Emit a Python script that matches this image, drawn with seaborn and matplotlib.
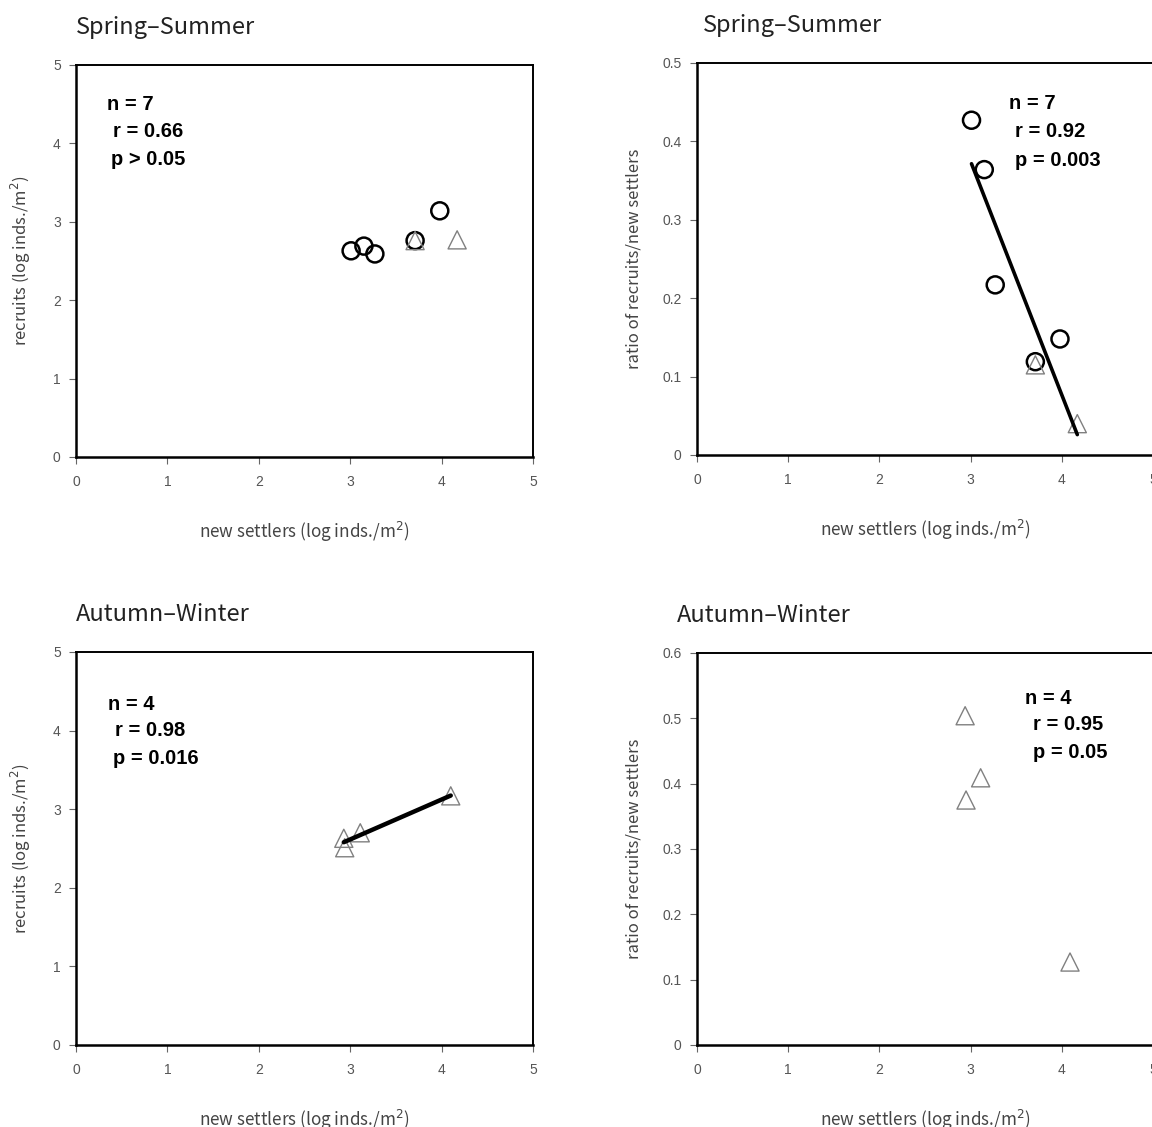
import numpy as np
import pandas as pd
import matplotlib
matplotlib.use("Agg")
import matplotlib.pyplot as plt
import seaborn as sns

# Spring-Summer: circles and triangles (log new settlers, log recruits, ratio)
ss_circle_x = [3.01, 3.15, 3.27, 3.71, 3.98]
ss_circle_recruits = [2.63, 2.69, 2.59, 2.76, 3.14]
ss_circle_ratio = [0.427, 0.364, 0.217, 0.119, 0.148]
ss_tri_x = [3.71, 4.17]
ss_tri_recruits = [2.76, 2.77]
ss_tri_ratio = [0.115, 0.040]

# Autumn-Winter: triangles only
aw_tri_x = [2.93, 2.94, 3.11, 4.10]
aw_tri_recruits = [2.63, 2.51, 2.70, 3.17]
aw_tri_ratio = [0.375, 0.504, 0.409, 0.127]
aw_ratio_x = [2.95, 2.94, 3.11, 4.09]

titles = ["Spring\u2013Summer", "Spring\u2013Summer", "Autumn\u2013Winter", "Autumn\u2013Winter"]
stats_ss_rec = ["n = 7", " r = 0.66", " p > 0.05"]
stats_ss_rat = ["n = 7", " r = 0.92", " p = 0.003"]
stats_aw_rec = ["n = 4", " r = 0.98", " p = 0.016"]
stats_aw_rat = ["n = 4", " r = 0.95", " p = 0.05"]

xlabel = r"new settlers (log inds./m$^{2}$)"
ylabel_rec = r"recruits (log inds./m$^{2}$)"
ylabel_rat = "ratio of recruits/new settlers"

sns.set_theme(style="ticks")
plt.rcParams["font.family"] = ["Liberation Sans", "DejaVu Sans"]
plt.rcParams["mathtext.fontset"] = "dejavusans"

W, H = 1152, 1127
fig = plt.figure(figsize=(W / 100, H / 100), dpi=100)
fig.patch.set_facecolor("white")


def px_axes(left, top, right, bottom):
    return fig.add_axes([left / W, 1 - bottom / H, (right - left) / W, (bottom - top) / H])


ax_tl = px_axes(76, 65, 533, 457)
ax_tr = px_axes(697, 63, 1153, 455)
ax_bl = px_axes(76, 652, 533, 1045)
ax_br = px_axes(697, 653, 1153, 1045)

circ_kw = dict(marker="o", s=150, facecolor="none", edgecolor="black", linewidth=1.8, zorder=3)
tri_kw = dict(marker="^", s=170, facecolor="none", edgecolor="#808080", linewidth=1.0, zorder=3)
label_font = ["Noto Sans CJK JP", "DejaVu Sans"]


def style_axes(ax, ymax, yticks, yticklabels, ylabel, title, title_x):
    ax.set_xlim(0, 5)
    ax.set_ylim(0, ymax)
    ax.set_xticks([0, 1, 2, 3, 4, 5])
    ax.set_xticklabels(["0", "1", "2", "3", "4", "5"])
    ax.set_yticks(yticks)
    ax.set_yticklabels(yticklabels)
    ax.tick_params(direction="out", length=5, width=0.8, color="#666666",
                   labelcolor="#555555", labelsize=10)
    ax.tick_params(axis="x", pad=8)
    ax.tick_params(axis="y", pad=6)
    for side in ["left", "bottom", "top", "right"]:
        ax.spines[side].set_visible(True)
        ax.spines[side].set_color("black")
        ax.spines[side].set_linewidth(1.4)
    ax.spines["left"].set_linewidth(1.8)
    ax.spines["bottom"].set_linewidth(1.8)
    ax.set_xlabel(xlabel, fontsize=12.3, color="#444444", labelpad=22, family=label_font)
    ax.set_ylabel(ylabel, fontsize=12, color="#444444", labelpad=14, family=label_font)
    ax.set_title(title, loc="left", x=title_x, pad=22, fontsize=17, color="#222222",
                 family=label_font)
    ax.set_facecolor("white")


def put_stats(ax, lines, xs, ys):
    for t, x, y in zip(lines, xs, ys):
        ax.text(x, y, t.strip(), fontsize=14.5, fontweight="bold", color="black",
                ha="left", va="center")


# Top-left: recruits vs settlers, Spring-Summer
sns.scatterplot(x=ss_circle_x, y=ss_circle_recruits, ax=ax_tl, **circ_kw)
sns.scatterplot(x=ss_tri_x, y=ss_tri_recruits, ax=ax_tl, **tri_kw)
style_axes(ax_tl, 5, [0, 1, 2, 3, 4, 5], ["0", "1", "2", "3", "4", "5"], ylabel_rec, titles[0], 0.0)
put_stats(ax_tl, stats_ss_rec, [0.34, 0.40, 0.38], [4.50, 4.15, 3.80])

# Top-right: ratio vs settlers, Spring-Summer, with regression line
ss_df = pd.DataFrame({"x": ss_circle_x + ss_tri_x, "ratio": ss_circle_ratio + ss_tri_ratio})
sns.regplot(data=ss_df, x="x", y="ratio", ax=ax_tr, scatter=False, ci=None,
            line_kws=dict(color="black", linewidth=2.6, zorder=4))
sns.scatterplot(x=ss_circle_x, y=ss_circle_ratio, ax=ax_tr, **circ_kw)
sns.scatterplot(x=ss_tri_x, y=ss_tri_ratio, ax=ax_tr, **tri_kw)
style_axes(ax_tr, 0.5, [0, 0.1, 0.2, 0.3, 0.4, 0.5], ["0", "0.1", "0.2", "0.3", "0.4", "0.5"],
           ylabel_rat, titles[1], 0.013)
put_stats(ax_tr, stats_ss_rat, [3.42, 3.49, 3.49], [0.448, 0.412, 0.376])

# Bottom-left: recruits vs settlers, Autumn-Winter, with regression line
aw_df = pd.DataFrame({"x": aw_tri_x, "rec": aw_tri_recruits})
sns.regplot(data=aw_df, x="x", y="rec", ax=ax_bl, scatter=False, ci=None,
            line_kws=dict(color="black", linewidth=3.2, zorder=4))
sns.scatterplot(x=aw_tri_x, y=aw_tri_recruits, ax=ax_bl, **tri_kw)
style_axes(ax_bl, 5, [0, 1, 2, 3, 4, 5], ["0", "1", "2", "3", "4", "5"], ylabel_rec, titles[2], 0.0)
put_stats(ax_bl, stats_aw_rec, [0.35, 0.43, 0.41], [4.33, 4.00, 3.64])

# Bottom-right: ratio vs settlers, Autumn-Winter
sns.scatterplot(x=aw_ratio_x, y=aw_tri_ratio, ax=ax_br, **tri_kw)
style_axes(ax_br, 0.6, [0, 0.1, 0.2, 0.3, 0.4, 0.5, 0.6],
           ["0", "0.1", "0.2", "0.3", "0.4", "0.5", "0.6"], ylabel_rat, titles[3], -0.044)
put_stats(ax_br, stats_aw_rat, [3.60, 3.68, 3.68], [0.531, 0.490, 0.447])

fig.savefig("out.png", dpi=100, facecolor="white")
